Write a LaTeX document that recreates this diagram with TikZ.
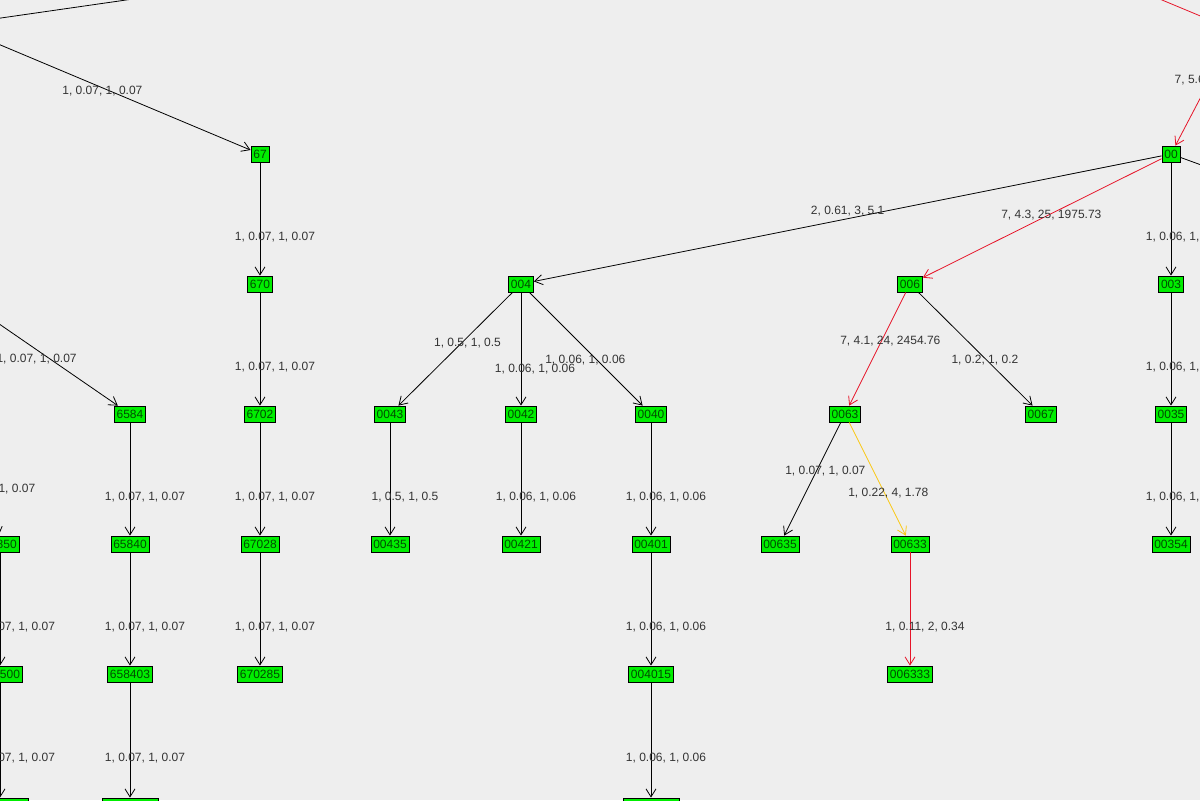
\documentclass[tikz,border=0pt]{standalone}
\usepackage{fontspec}
\setmainfont{Liberation Sans}
\usetikzlibrary{arrows.meta}
\definecolor{bggray}{RGB}{238,238,238}
\definecolor{nodegreen}{RGB}{0,238,0}
\definecolor{hotred}{RGB}{230,20,40}
\definecolor{warmorange}{RGB}{250,200,20}
\tikzset{
    vertex/.style = {draw, fill=nodegreen, line width=0.4pt, inner sep=1.2pt,
        minimum height=8pt, font=\fontsize{6}{7}\selectfont, text=black!70!green},
    link/.style = {-{Straight Barb[length=4pt,width=5pt]}, line width=0.4pt},
    hot/.style = {link, hotred},
    warm/.style = {link, warmorange},
    weight/.style = {font=\fontsize{6}{7}\selectfont, text=black!80, fill=none},
    vweight/.style = {weight, midway, xshift=7.5pt, yshift=-9pt}
}
\begin{document}
\begin{tikzpicture}[x=0.5pt, y=-0.5pt]
    \fill[bggray] (0,0) rectangle (1200,800);
    \useasboundingbox (0,0) rectangle (1200,800);
    \clip (0,0) rectangle (1200,800);

    % off-screen ends
    \coordinate (top_a) at (-20,21);
    \coordinate (top_b) at (140,-2);
    \coordinate (src67) at (-40,28);
    \coordinate (src6584) at (-40,297);
    \coordinate (src0) at (-20,420);
    \coordinate (redtop_a) at (1150,-5);
    \coordinate (redtop_b) at (1210,20);
    \coordinate (src00) at (1215,70);
    \coordinate (right00) at (1215,170);

    % nodes
    \node[vertex] (n67) at (260,154) {67};
    \node[vertex] (n670) at (260,284) {670};
    \node[vertex] (n6702) at (260,414) {6702};
    \node[vertex] (n67028) at (260,544) {67028};
    \node[vertex] (n670285) at (260,674) {670285};
    \node[vertex] (n6584) at (130,414) {6584};
    \node[vertex] (n65840) at (130,544) {65840};
    \node[vertex] (n658403) at (130,674) {658403};
    \node[vertex, minimum width=28pt] (n6584030) at (130,806) {};
    \node[vertex] (n65850) at (0,544) {65850};
    \node[vertex] (n658500) at (0,674) {658500};
    \node[vertex, minimum width=28pt] (n6585000) at (0,806) {};
    \node[vertex] (n00) at (1171,154) {00};
    \node[vertex] (n004) at (521,284) {004};
    \node[vertex] (n006) at (910,284) {006};
    \node[vertex] (n003) at (1171,284) {003};
    \node[vertex] (n0043) at (390,414) {0043};
    \node[vertex] (n0042) at (521,414) {0042};
    \node[vertex] (n0040) at (651,414) {0040};
    \node[vertex] (n00435) at (390,544) {00435};
    \node[vertex] (n00421) at (521,544) {00421};
    \node[vertex] (n00401) at (651,544) {00401};
    \node[vertex] (n004015) at (651,674) {004015};
    \node[vertex, minimum width=28pt] (n0040150) at (651,806) {};
    \node[vertex] (n0063) at (845,414) {0063};
    \node[vertex] (n0067) at (1041,414) {0067};
    \node[vertex] (n00635) at (780,544) {00635};
    \node[vertex] (n00633) at (910,544) {00633};
    \node[vertex] (n006333) at (910,674) {006333};
    \node[vertex] (n0035) at (1171,414) {0035};
    \node[vertex] (n00354) at (1171,544) {00354};

    % edges
    \draw[line width=0.4pt] (top_a) -- (top_b);
    \draw[hotred, line width=0.4pt] (redtop_a) -- (redtop_b);
    \draw[line width=0.4pt] (n00) -- (right00);
    \draw[link] (src67) -- (n67) node[weight, pos=0.49, yshift=-1.5pt] {1, 0.07, 1, 0.07};
    \draw[link] (n67) -- (n670) node[vweight] {1, 0.07, 1, 0.07};
    \draw[link] (n670) -- (n6702) node[vweight] {1, 0.07, 1, 0.07};
    \draw[link] (n6702) -- (n67028) node[vweight] {1, 0.07, 1, 0.07};
    \draw[link] (n67028) -- (n670285) node[vweight] {1, 0.07, 1, 0.07};
    \draw[link] (src6584) -- (n6584) node[weight, pos=0.46, xshift=2pt, yshift=-6pt] {1, 0.07, 1, 0.07};
    \draw[link] (n6584) -- (n65840) node[vweight] {1, 0.07, 1, 0.07};
    \draw[link] (n65840) -- (n658403) node[vweight] {1, 0.07, 1, 0.07};
    \draw[link] (n658403) -- (n6584030) node[vweight] {1, 0.07, 1, 0.07};
    \draw[link] (src0) -- (n65850) node[weight, pos=0.6, xshift=2pt] {1, 0.07, 1, 0.07};
    \draw[link] (n65850) -- (n658500) node[vweight] {1, 0.07, 1, 0.07};
    \draw[link] (n658500) -- (n6585000) node[vweight] {1, 0.07, 1, 0.07};
    \draw[hot] (src00) -- (n00) node[weight, pos=0.05, xshift=-10pt, yshift=-3pt] {7, 5.69};
    \draw[link] (n00) -- (n004) node[weight, pos=0.5, yshift=4pt] {2, 0.61, 3, 5.1};
    \draw[hot] (n00) -- (n006) node[weight, pos=0.47, xshift=1pt, yshift=0pt] {7, 4.3, 25, 1975.73};
    \draw[link] (n00) -- (n003) node[vweight] {1, 0.06, 1, 0.06};
    \draw[link] (n004) -- (n0043) node[weight, pos=0.5, xshift=6pt, yshift=3pt] {1, 0.5, 1, 0.5};
    \draw[link] (n004) -- (n0042) node[weight, pos=0.68, xshift=7pt] {1, 0.06, 1, 0.06};
    \draw[link] (n004) -- (n0040) node[weight, pos=0.6, xshift=-6pt] {1, 0.06, 1, 0.06};
    \draw[link] (n0043) -- (n00435) node[vweight] {1, 0.5, 1, 0.5};
    \draw[link] (n0042) -- (n00421) node[vweight] {1, 0.06, 1, 0.06};
    \draw[link] (n0040) -- (n00401) node[vweight] {1, 0.06, 1, 0.06};
    \draw[link] (n00401) -- (n004015) node[vweight] {1, 0.06, 1, 0.06};
    \draw[link] (n004015) -- (n0040150) node[vweight] {1, 0.06, 1, 0.06};
    \draw[hot] (n006) -- (n0063) node[weight, pos=0.45, xshift=5pt, yshift=1pt] {7, 4.1, 24, 2454.76};
    \draw[link] (n006) -- (n0067) node[weight, pos=0.6, xshift=-1pt] {1, 0.2, 1, 0.2};
    \draw[link] (n0063) -- (n00635) node[weight, pos=0.45, xshift=5pt, yshift=1pt] {1, 0.07, 1, 0.07};
    \draw[warm] (n0063) -- (n00633) node[weight, pos=0.62, xshift=2pt] {1, 0.22, 4, 1.78};
    \draw[hot] (n00633) -- (n006333) node[vweight] {1, 0.11, 2, 0.34};
    \draw[link] (n003) -- (n0035) node[vweight] {1, 0.06, 1, 0.06};
    \draw[link] (n0035) -- (n00354) node[vweight] {1, 0.06, 1, 0.06};
\end{tikzpicture}
\end{document}
